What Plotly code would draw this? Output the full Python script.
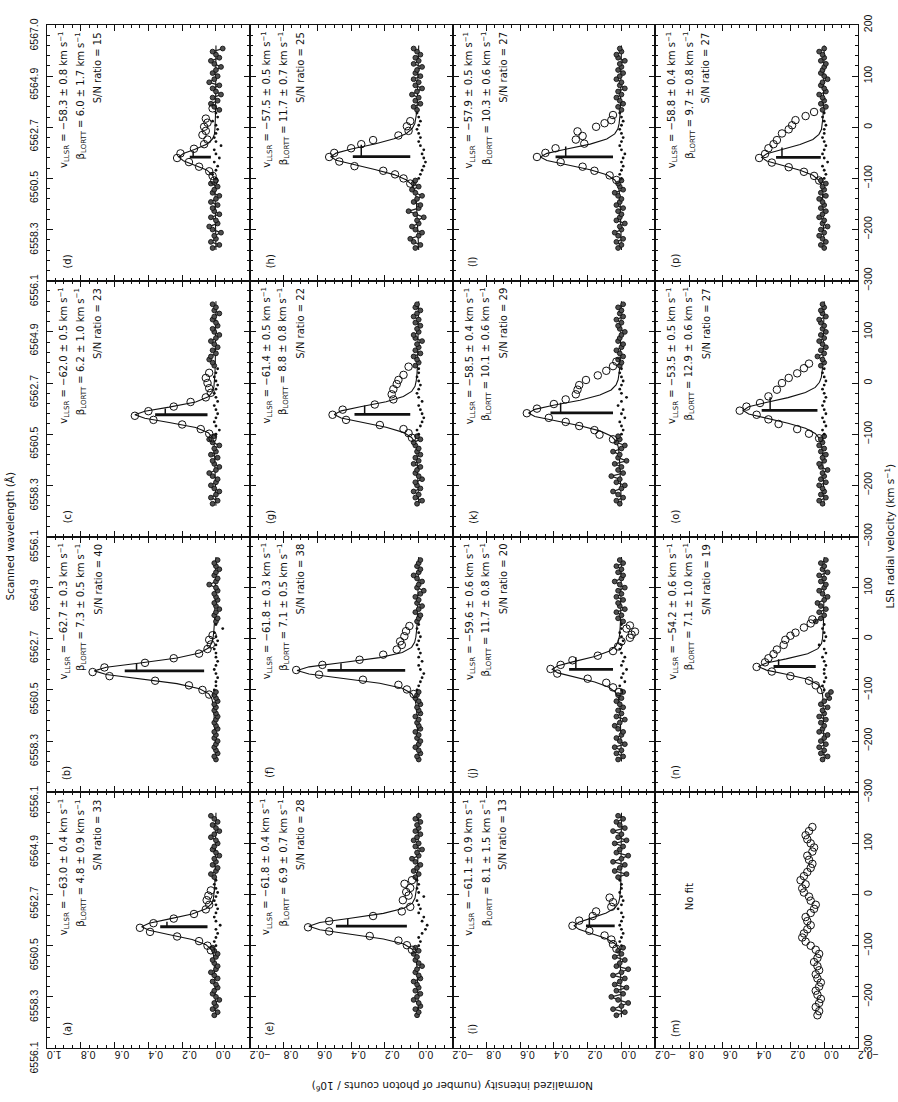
import plotly.graph_objects as go

# ---------------------------------------------------------------------------
# Fit results printed in each panel
# ---------------------------------------------------------------------------
LETTERS = list("abcdefghijklmnop")

V_LSR = dict(a=-63.0, b=-62.7, c=-62.0, d=-58.3, e=-61.8, f=-61.8, g=-61.4, h=-57.5,
             i=-61.1, j=-59.6, k=-58.5, l=-57.9, n=-54.2, o=-53.5, p=-58.8)
V_ERR = dict(a=0.4, b=0.3, c=0.5, d=0.8, e=0.4, f=0.3, g=0.5, h=0.5,
             i=0.9, j=0.6, k=0.4, l=0.5, n=0.6, o=0.5, p=0.4)
BETA = dict(a=4.8, b=7.3, c=6.2, d=6.0, e=6.9, f=7.1, g=8.8, h=11.7,
            i=8.1, j=11.7, k=10.1, l=10.3, n=7.1, o=12.9, p=9.7)
BETA_ERR = dict(a=0.9, b=0.5, c=1.0, d=1.7, e=0.7, f=0.5, g=0.8, h=0.7,
                i=1.5, j=0.8, k=0.6, l=0.6, n=1.0, o=0.6, p=0.8)
SNR = dict(a=33, b=40, c=23, d=15, e=28, f=38, g=22, h=25,
           i=13, j=20, k=29, l=27, n=19, o=27, p=27)

# ---------------------------------------------------------------------------
# Continuum windows (dense samples), km/s and normalized intensity
# ---------------------------------------------------------------------------
CONT_V_LO = [-236, -230, -224, -218, -212, -206, -200, -194, -188, -182, -176, -170,
             -164, -158, -152, -146, -140, -134, -128, -122, -116, -110, -104]
CONT_V_HI = [34, 40, 46, 52, 58, 64, 70, 76, 82, 88, 94, 100, 106, 112, 118, 124,
             130, 136, 142, 148, 154]

CONT_LO = dict(
    a=[0.01, -0.01, 0.02, 0.0, 0.01, -0.02, 0.0, 0.02, 0.01, -0.01, 0.0, 0.02, -0.01, 0.01, 0.03, 0.0, -0.01, 0.01, 0.02, 0.0, -0.01, 0.01, 0.02],
    b=[0.0, 0.01, -0.01, 0.0, 0.01, 0.0, -0.01, 0.01, 0.0, 0.01, -0.01, 0.0, 0.01, 0.0, -0.01, 0.0, 0.01, 0.0, 0.01, -0.01, 0.0, 0.01, 0.0],
    c=[0.02, -0.01, 0.03, 0.0, -0.02, 0.01, 0.03, 0.0, -0.01, 0.02, 0.04, 0.0, -0.02, 0.01, 0.02, -0.01, 0.03, 0.0, 0.01, -0.02, 0.02, 0.04, 0.01],
    d=[0.02, -0.02, 0.03, 0.0, 0.01, -0.03, 0.02, 0.04, -0.01, 0.0, 0.03, -0.02, 0.01, 0.02, -0.01, 0.03, 0.0, -0.02, 0.02, 0.01, -0.01, 0.03, 0.0],
    e=[0.01, 0.0, 0.02, -0.01, 0.0, 0.03, 0.01, -0.01, 0.02, 0.0, 0.01, 0.03, -0.01, 0.0, 0.02, 0.01, -0.02, 0.0, 0.02, 0.01, 0.03, 0.0, 0.02],
    f=[0.0, 0.01, -0.01, 0.0, 0.02, 0.0, -0.01, 0.01, 0.0, 0.02, -0.01, 0.0, 0.01, 0.0, 0.02, -0.01, 0.0, 0.01, -0.01, 0.0, 0.02, 0.01, 0.0],
    g=[0.01, -0.02, 0.02, 0.0, 0.03, -0.01, 0.01, 0.02, -0.02, 0.0, 0.02, 0.01, -0.01, 0.03, 0.0, 0.02, -0.01, 0.01, 0.0, 0.02, 0.03, -0.01, 0.01],
    h=[0.02, -0.01, 0.03, 0.05, 0.0, -0.02, 0.02, 0.04, 0.0, 0.01, -0.03, 0.02, 0.06, 0.0, -0.01, 0.03, 0.01, -0.02, 0.02, 0.04, 0.0, 0.03, 0.02],
    i=[0.03, -0.02, 0.05, 0.0, -0.04, 0.02, 0.06, -0.01, 0.03, -0.03, 0.04, 0.01, -0.02, 0.05, 0.0, -0.04, 0.03, 0.01, -0.02, 0.04, 0.0, 0.02, -0.01],
    j=[0.02, -0.01, 0.03, 0.0, 0.04, -0.02, 0.01, 0.03, 0.0, -0.01, 0.02, 0.04, 0.01, -0.02, 0.03, 0.0, 0.02, -0.01, 0.01, 0.03, 0.0, 0.02, -0.01],
    k=[0.01, 0.03, -0.01, 0.02, 0.05, 0.0, -0.02, 0.03, 0.01, 0.06, -0.01, 0.02, 0.0, 0.04, -0.03, 0.02, 0.01, 0.05, 0.0, -0.02, 0.03, 0.01, 0.02],
    l=[0.02, 0.0, 0.03, -0.01, 0.02, 0.04, 0.0, 0.01, -0.02, 0.03, 0.01, 0.0, 0.02, -0.01, 0.03, 0.01, 0.0, 0.02, 0.04, -0.01, 0.01, 0.02, 0.0],
    n=[0.01, -0.02, 0.02, 0.0, 0.03, -0.01, 0.02, 0.0, -0.02, 0.03, 0.01, 0.0, 0.02, -0.01, 0.03, 0.0, 0.01, -0.02, 0.02, 0.0, -0.03, -0.02, -0.04],
    o=[0.01, 0.03, -0.01, 0.02, 0.0, 0.01, 0.03, -0.01, 0.02, 0.0, 0.01, -0.02, 0.02, 0.03, 0.0, 0.01, -0.01, 0.02, 0.0, 0.03, 0.01, 0.02, 0.0],
    p=[0.0, 0.02, -0.01, 0.01, 0.03, 0.0, 0.02, -0.02, 0.01, 0.0, 0.03, 0.01, -0.01, 0.02, 0.0, 0.01, 0.03, -0.01, 0.02, 0.0, 0.01, -0.01, 0.02],
)
CONT_HI = dict(
    a=[0.01, 0.03, 0.0, -0.01, 0.02, 0.0, 0.01, -0.02, 0.0, 0.02, 0.01, -0.01, 0.0, 0.03, 0.01, -0.02, 0.0, 0.02, -0.01, 0.01, 0.03],
    b=[0.0, -0.01, 0.01, 0.0, -0.02, 0.0, 0.01, -0.01, 0.0, 0.01, -0.01, 0.0, 0.04, 0.0, -0.01, 0.01, 0.0, -0.02, 0.0, 0.01, -0.01],
    c=[0.01, 0.02, 0.04, 0.03, 0.0, 0.02, -0.01, 0.01, 0.03, 0.0, -0.02, 0.01, 0.02, -0.01, 0.0, 0.02, 0.01, -0.02, 0.01, 0.0, 0.02],
    d=[-0.02, 0.01, 0.03, -0.01, 0.02, -0.03, 0.0, 0.02, -0.02, 0.04, 0.01, -0.01, 0.02, 0.0, -0.03, 0.01, 0.03, -0.02, 0.0, 0.02, -0.04],
    e=[0.02, 0.0, 0.03, 0.01, -0.01, 0.02, 0.04, 0.0, 0.01, -0.02, 0.02, 0.0, 0.03, 0.01, -0.01, 0.02, 0.0, 0.01, -0.01, 0.02, 0.0],
    f=[0.01, 0.0, -0.01, 0.02, 0.0, -0.02, 0.01, 0.0, 0.02, -0.01, -0.03, 0.01, 0.0, -0.02, 0.01, 0.03, 0.0, -0.01, 0.01, 0.0, -0.01],
    g=[0.02, 0.0, 0.01, 0.03, -0.01, 0.02, 0.0, 0.01, -0.02, 0.02, 0.03, 0.0, 0.01, -0.01, 0.02, 0.0, 0.03, 0.01, -0.01, 0.02, 0.01],
    h=[0.01, 0.03, -0.01, 0.02, 0.0, 0.04, 0.01, -0.02, 0.02, 0.0, 0.03, -0.01, 0.02, 0.01, -0.02, 0.03, 0.0, 0.02, -0.01, 0.01, 0.03],
    i=[0.02, -0.03, 0.04, 0.01, -0.02, 0.05, 0.0, -0.04, 0.03, 0.01, -0.01, 0.04, -0.03, 0.02, 0.0, 0.05, -0.02, 0.01, 0.03, -0.01, 0.02],
    j=[-0.01, 0.02, 0.0, 0.03, -0.02, 0.01, 0.02, -0.01, 0.03, 0.0, 0.02, -0.02, 0.01, 0.04, 0.0, -0.01, 0.02, 0.0, 0.03, -0.01, 0.01],
    k=[0.01, 0.0, 0.02, -0.01, 0.01, 0.03, 0.0, -0.01, 0.02, 0.01, 0.0, -0.02, 0.01, 0.02, 0.0, 0.03, -0.01, 0.01, 0.0, 0.02, -0.01],
    l=[0.0, 0.02, -0.01, 0.01, 0.03, 0.0, 0.02, -0.02, 0.01, 0.0, 0.03, 0.01, -0.01, 0.02, 0.0, 0.01, -0.02, 0.02, 0.03, 0.0, 0.01],
    n=[0.05, 0.02, 0.0, 0.03, -0.01, 0.02, 0.04, 0.0, -0.02, 0.01, 0.03, 0.0, -0.01, 0.02, 0.0, 0.03, -0.02, 0.01, 0.0, 0.02, -0.01],
    o=[0.02, 0.0, 0.01, 0.04, 0.0, 0.02, -0.01, 0.01, 0.03, 0.0, 0.02, -0.01, 0.01, 0.0, 0.02, 0.03, -0.01, 0.01, 0.02, 0.0, 0.01],
    p=[0.01, -0.01, 0.02, 0.0, 0.01, 0.03, -0.01, 0.0, 0.02, 0.01, -0.02, 0.0, 0.02, 0.01, 0.0, -0.01, 0.02, 0.0, 0.01, 0.03, 0.0],
)

# ---------------------------------------------------------------------------
# Small baseline dots across the line window
# ---------------------------------------------------------------------------
DOT_V = [-100, -92, -84, -76, -68, -60, -52, -44, -36, -28, -20, -12, -4, 4, 12, 20, 28]
DOT_I = dict(
    a=[0.0, 0.01, 0.0, -0.01, 0.0, -0.025, 0.0, 0.01, 0.0, -0.01, 0.0, 0.01, 0.0, -0.01, 0.0, 0.01, 0.0],
    b=[0.01, 0.0, 0.0, -0.01, 0.0, 0.01, 0.0, -0.01, 0.0, 0.0, 0.01, 0.0, -0.01, 0.0, 0.01, -0.04, 0.0],
    c=[0.0, -0.02, 0.0, 0.01, 0.0, -0.01, 0.0, 0.01, -0.01, 0.0, 0.01, 0.0, -0.01, 0.0, 0.01, 0.0, -0.01],
    d=[0.0, 0.02, 0.0, -0.01, 0.01, -0.02, 0.0, 0.01, -0.03, 0.0, 0.01, 0.0, -0.01, 0.0, 0.02, -0.01, 0.0],
    e=[0.0, -0.01, 0.0, -0.02, -0.04, -0.05, -0.02, -0.03, 0.0, -0.01, 0.0, 0.01, -0.03, 0.0, 0.01, 0.0, 0.01],
    f=[0.01, 0.0, -0.01, -0.02, -0.03, -0.01, 0.0, -0.02, 0.0, -0.01, 0.0, 0.01, 0.0, -0.01, 0.0, 0.01, 0.0],
    g=[0.0, 0.01, -0.01, -0.02, -0.03, -0.02, -0.01, 0.0, -0.02, 0.0, 0.01, 0.0, -0.01, 0.0, 0.01, 0.0, 0.0],
    h=[0.0, -0.01, -0.02, -0.03, -0.04, -0.03, -0.02, -0.03, -0.01, 0.0, -0.01, 0.0, 0.01, 0.0, -0.01, 0.0, 0.01],
    i=[0.0, 0.01, 0.0, -0.01, 0.0, 0.01, 0.0, -0.01, 0.0, 0.02, 0.0, -0.01, 0.0, 0.01, 0.0, 0.0, 0.01],
    j=[0.0, 0.01, -0.02, 0.0, -0.01, -0.03, 0.0, -0.01, -0.02, 0.0, 0.01, 0.0, -0.01, 0.0, 0.01, 0.0, 0.0],
    k=[0.0, -0.01, 0.0, 0.01, -0.02, 0.0, -0.01, 0.02, 0.0, -0.03, 0.0, 0.01, 0.0, -0.01, 0.0, 0.01, 0.0],
    l=[0.0, 0.01, 0.0, -0.01, 0.0, -0.01, -0.02, 0.0, 0.01, 0.0, -0.01, 0.0, 0.01, 0.0, -0.01, 0.0, 0.01],
    n=[0.0, 0.01, 0.0, -0.01, 0.0, 0.0, -0.01, 0.0, 0.01, -0.01, 0.0, 0.03, 0.0, -0.01, 0.0, 0.01, 0.0],
    o=[0.0, 0.01, -0.01, 0.0, 0.01, -0.01, 0.0, 0.01, 0.0, -0.01, 0.0, 0.01, 0.0, -0.01, 0.0, 0.01, 0.0],
    p=[0.0, -0.01, 0.0, 0.01, -0.02, 0.0, 0.01, 0.0, -0.01, 0.0, 0.01, 0.0, 0.0, -0.01, 0.0, 0.01, 0.0],
)

# ---------------------------------------------------------------------------
# Line-window samples (open circles): velocity and intensity
# ---------------------------------------------------------------------------
RING_V = dict(
    a=[-109, -100, -91, -82, -73, -65, -56, -47, -38, -29, -20, -11, -2, 8],
    b=[-109, -100, -91, -82, -73, -65, -56, -47, -38, -29, -20, -11, -2, 7],
    c=[-108, -99, -90, -81, -72, -64, -55, -46, -37, -28, -19, -10, 0, 10, 20],
    d=[-104, -95, -86, -77, -68, -60, -51, -42, -33, -24, -15, -7, 1, 9, 17, 37],
    e=[-108, -99, -90, -81, -72, -64, -52, -42, -33, -24, -11, -2, 5, 13, 21, 28],
    f=[-108, -99, -90, -80, -70, -61, -51, -41, -31, -21, -12, -5, 5, 15, 25],
    g=[-107, -98, -90, -82, -72, -62, -52, -42, -32, -22, -12, -2, 6, 16, 32],
    h=[-110, -100, -92, -85, -76, -67, -58, -50, -41, -33, -25, -16, -7, 2, 12],
    i=[-106, -97, -88, -80, -71, -61, -51, -42, -33, -24, -15, -6],
    j=[-104, -95, -86, -78, -68, -59, -51, -42, -33, -24, -15, -5, 2, 8, 14, 20, 26],
    k=[-110, -101, -92, -84, -76, -68, -59, -50, -41, -32, -22, -13, -4, 6, 15, 24, 33, 42],
    l=[-103, -94, -85, -77, -68, -58, -50, -41, -32, -24, -17, -8, 1, 8, 14, 24],
    m=[-236, -228, -220, -212, -204, -196, -188, -180, -172, -164, -156, -148, -140, -132,
       -124, -116, -108, -100, -92, -84, -76, -68, -60, -52, -44, -36, -28, -20, -12, -4,
       4, 12, 20, 28, 36, 44, 52, 60, 68, 76, 84, 92, 100, 108, 116, 124, 132],
    n=[-100, -91, -82, -73, -64, -55, -46, -38, -30, -21, -12, -2, 6, 12, 22, 30, 38],
    o=[-108, -99, -90, -80, -71, -62, -54, -46, -39, -26, -13, 0, 10, 19, 29, 38],
    p=[-104, -95, -87, -78, -69, -60, -52, -41, -33, -25, -12, -4, 4, 14, 22, 30],
)
RING_I = dict(
    a=[0.03, 0.05, 0.10, 0.23, 0.39, 0.45, 0.37, 0.25, 0.13, 0.06, 0.04, 0.055, 0.045, 0.03],
    b=[0.04, 0.08, 0.16, 0.36, 0.63, 0.73, 0.66, 0.42, 0.25, 0.10, 0.05, 0.03, 0.04, 0.02],
    c=[0.02, 0.04, 0.09, 0.20, 0.37, 0.48, 0.40, 0.25, 0.15, 0.06, 0.03, 0.04, 0.05, 0.06, 0.04],
    d=[0.01, 0.02, 0.04, 0.10, 0.16, 0.23, 0.21, 0.13, 0.07, 0.05, 0.08, 0.06, 0.07, 0.05, 0.06, 0.02],
    e=[0.04, 0.07, 0.12, 0.29, 0.53, 0.655, 0.53, 0.27, 0.10, 0.05, 0.094, 0.06, 0.074, 0.05, 0.084, 0.04],
    f=[0.03, 0.07, 0.12, 0.33, 0.59, 0.725, 0.57, 0.35, 0.21, 0.13, 0.10, 0.11, 0.085, 0.075, 0.055],
    g=[0.04, 0.06, 0.09, 0.23, 0.43, 0.51, 0.45, 0.26, 0.15, 0.16, 0.15, 0.13, 0.12, 0.09, 0.06],
    h=[0.05, 0.09, 0.14, 0.21, 0.38, 0.47, 0.53, 0.50, 0.40, 0.34, 0.27, 0.12, 0.06, 0.07, 0.05],
    i=[0.03, 0.05, 0.06, 0.10, 0.19, 0.29, 0.25, 0.17, 0.15, 0.06, 0.05, 0.07],
    j=[0.015, 0.05, 0.09, 0.20, 0.38, 0.42, 0.36, 0.29, 0.14, 0.05, 0.02, 0.0, -0.05, -0.06, -0.08, -0.03, -0.05],
    k=[0.05, 0.13, 0.16, 0.25, 0.33, 0.43, 0.56, 0.50, 0.40, 0.33, 0.27, 0.26, 0.25, 0.21, 0.14, 0.09, 0.05, 0.03],
    l=[0.03, 0.07, 0.16, 0.23, 0.36, 0.50, 0.45, 0.39, 0.22, 0.27, 0.23, 0.26, 0.15, 0.10, 0.06, 0.05],
    m=[0.04, 0.03, 0.05, 0.03, 0.02, 0.04, 0.05, 0.03, 0.02, 0.04, 0.05, 0.03, 0.04, 0.06,
       0.04, 0.03, 0.05, 0.08, 0.11, 0.13, 0.12, 0.10, 0.08, 0.10, 0.11, 0.08, 0.06, 0.05,
       0.08, 0.09, 0.12, 0.13, 0.11, 0.14, 0.12, 0.10, 0.08, 0.07, 0.09, 0.10, 0.07, 0.06,
       0.08, 0.10, 0.11, 0.09, 0.07],
    n=[0.02, 0.05, 0.09, 0.20, 0.31, 0.40, 0.35, 0.33, 0.30, 0.28, 0.24, 0.23, 0.20, 0.17, 0.12, 0.08, 0.07],
    o=[0.03, 0.09, 0.16, 0.27, 0.33, 0.40, 0.50, 0.46, 0.38, 0.33, 0.28, 0.25, 0.21, 0.16, 0.12, 0.09],
    p=[0.03, 0.06, 0.12, 0.21, 0.31, 0.385, 0.35, 0.33, 0.30, 0.28, 0.25, 0.21, 0.19, 0.17, 0.11, 0.06],
)

# ---------------------------------------------------------------------------
# Fitted profile, sampled at offsets (km/s) from the fitted line centre
# ---------------------------------------------------------------------------
FIT_DV = [-100, -80, -65, -55, -45, -35, -25, -15, -7, 0, 7, 15, 25, 35, 45, 55, 65, 80, 100]
FIT_I = dict(
    a=[.005, .007, .011, .015, .026, .059, .141, .281, .396, .440, .396, .281, .141, .059, .026, .015, .011, .007, .005],
    b=[.008, .012, .017, .024, .042, .097, .231, .460, .649, .720, .649, .460, .231, .097, .042, .024, .017, .012, .008],
    c=[.004, .006, .009, .012, .020, .045, .120, .277, .421, .480, .421, .277, .120, .045, .020, .012, .009, .006, .004],
    d=[.002, .003, .004, .006, .009, .021, .055, .127, .193, .220, .193, .127, .055, .021, .009, .006, .004, .003, .002],
    e=[.007, .010, .016, .022, .038, .088, .209, .415, .586, .650, .586, .415, .209, .088, .038, .022, .016, .010, .007],
    f=[.008, .012, .017, .024, .042, .097, .231, .460, .649, .720, .649, .460, .231, .097, .042, .024, .017, .012, .008],
    g=[.007, .010, .015, .022, .042, .091, .193, .345, .459, .500, .459, .345, .193, .091, .042, .022, .015, .010, .007],
    h=[.009, .015, .023, .039, .075, .146, .260, .398, .489, .520, .489, .398, .260, .146, .075, .039, .023, .015, .009],
    i=[.003, .004, .007, .010, .017, .038, .090, .179, .252, .280, .252, .179, .090, .038, .017, .010, .007, .004, .003],
    j=[.005, .008, .012, .018, .034, .074, .158, .283, .376, .410, .376, .283, .158, .074, .034, .018, .012, .008, .005],
    k=[.008, .013, .020, .032, .061, .128, .245, .403, .513, .550, .513, .403, .245, .128, .061, .032, .020, .013, .008],
    l=[.006, .009, .014, .021, .040, .087, .185, .331, .441, .480, .441, .331, .185, .087, .040, .021, .014, .009, .006],
    n=[.003, .005, .007, .010, .016, .037, .098, .225, .342, .390, .342, .225, .098, .037, .016, .010, .007, .005, .003],
    o=[.007, .011, .017, .028, .053, .111, .214, .351, .447, .480, .447, .351, .214, .111, .053, .028, .017, .011, .007],
    p=[.005, .007, .011, .016, .031, .067, .143, .255, .340, .370, .340, .255, .143, .067, .031, .016, .011, .007, .005],
)

# Centre marker: bar from BAR_LO to BAR_HI at the fitted velocity, tick at CAP_I
BAR_LO = dict(a=.05, b=.07, c=.05, d=.03, e=.07, f=.08, g=.05, h=.05, i=.04, j=.05, k=.05, l=.05, n=.05, o=.04, p=.02)
BAR_HI = dict(a=.33, b=.54, c=.36, d=.155, e=.49, f=.54, g=.38, h=.39, i=.21, j=.31, k=.42, l=.39, n=.30, o=.37, p=.285)
CAP_I = dict(a=.29, b=.47, c=.30, d=.135, e=.42, f=.46, g=.32, h=.34, i=.19, j=.27, k=.36, l=.33, n=.27, o=.32, p=.25)

# Axis tick labels
I_TICKS = [1.0, 0.8, 0.6, 0.4, 0.2, 0.0, -0.2]
V_TICKS = [-300, -200, -100, 0, 100, 200]
WL_TICKS = [6556.1, 6558.3, 6560.5, 6562.7, 6564.9, 6567.0]
WL_RANGE = [6556.1, 6567.0]
V_RANGE = [-300, 200]
I_RANGE = [1.0, -0.2]

# ---------------------------------------------------------------------------
INK = "#111111"
FONT = "Liberation Sans, Arial, sans-serif"
TEXT_FONT = "DejaVu Sans, Liberation Sans, sans-serif"
MINUS = "\u2212"


def num(x, fmt="{:.1f}"):
    s = fmt.format(x)
    return s.replace("-", MINUS)


def ax_names(k):
    return ("xaxis" if k == 1 else f"xaxis{k}",
            "yaxis" if k == 1 else f"yaxis{k}",
            "x" if k == 1 else f"x{k}",
            "y" if k == 1 else f"y{k}")


fig = go.Figure()
layout = dict(
    width=898, height=1102,
    margin=dict(l=47, r=40, t=25, b=54, pad=0),
    paper_bgcolor="white", plot_bgcolor="white",
    showlegend=False,
    font=dict(family=FONT, size=10, color=INK),
)
annotations = []

minor_i = [round(-0.2 + 0.05 * n, 2) for n in range(25)]
minor_v = list(range(-300, 201, 20))

for idx, letter in enumerate(LETTERS):
    col, row = idx // 4, 3 - idx % 4
    k = row * 4 + col + 1
    xname, yname, xr, yr = ax_names(k)

    x_text = [num(t) if (col == 0 or t != 1.0) else "" for t in I_TICKS]
    layout[xname] = dict(
        domain=[col / 4, (col + 1) / 4], anchor=yr, range=I_RANGE,
        showgrid=False, zeroline=False, showline=True, linecolor=INK, linewidth=1.0,
        mirror="ticks", ticks="inside", ticklen=6, tickwidth=1.0, tickcolor=INK,
        tickmode="array", tickvals=I_TICKS, ticktext=x_text,
        showticklabels=(row == 3), tickangle=180,
        tickfont=dict(family=FONT, size=10.5, color=INK),
        minor=dict(tickmode="array", tickvals=minor_i, ticks="inside", ticklen=3,
                   tickwidth=1, tickcolor=INK),
    )
    y_text = [num(t, "{:d}") if (row == 0 or t != 200) else "" for t in V_TICKS]
    layout[yname] = dict(
        domain=[1 - (row + 1) / 4, 1 - row / 4], anchor=xr, range=V_RANGE,
        showgrid=False, zeroline=False, showline=True, linecolor=INK, linewidth=1.0,
        mirror="ticks", ticks="inside", ticklen=6, tickwidth=1.0, tickcolor=INK,
        tickmode="array", tickvals=V_TICKS, ticktext=y_text,
        showticklabels=(col == 3), side="right", tickangle=-90,
        tickfont=dict(family=FONT, size=10.5, color=INK),
        minor=dict(tickmode="array", tickvals=minor_v, ticks="inside", ticklen=3,
                   tickwidth=1, tickcolor=INK),
    )

    # scanned-wavelength scale along the outer left edge
    if col == 0:
        wk = 17 + row
        wl_vals = WL_TICKS if row == 0 else WL_TICKS[:-1]
        layout[f"yaxis{wk}"] = dict(
            overlaying=yr, anchor=xr, side="left", range=WL_RANGE,
            showgrid=False, zeroline=False, showline=False, ticks="",
            tickmode="array", tickvals=wl_vals, ticktext=[f"{w:.1f}" for w in wl_vals],
            tickangle=-90, ticklabelshift=11, ticklabelstandoff=6,
            tickfont=dict(family=FONT, size=10.5, color=INK),
        )
        fig.add_trace(go.Scatter(x=[0.4, 0.4], y=WL_RANGE, mode="markers",
                                 marker=dict(opacity=0), hoverinfo="skip",
                                 xaxis=xr, yaxis=f"y{wk}"))

    if letter in V_LSR:
        v0 = V_LSR[letter]
        # fitted profile with its flat baseline
        fit_v = [-240] + [v0 + dv for dv in FIT_DV] + [160]
        fit_i = [0.0] + FIT_I[letter] + [0.0]
        fig.add_trace(go.Scatter(x=fit_i, y=fit_v, mode="lines",
                                 line=dict(color=INK, width=1.1),
                                 xaxis=xr, yaxis=yr, hoverinfo="skip"))
        # continuum samples: two dense windows drawn as a jagged band
        for ci, cv in ((CONT_LO[letter], CONT_V_LO), (CONT_HI[letter], CONT_V_HI)):
            fig.add_trace(go.Scatter(
                x=ci, y=cv, mode="lines+markers",
                line=dict(color="#222", width=1.3),
                marker=dict(symbol="circle", size=4.8, color="#505050",
                            line=dict(color="#111", width=0.9)),
                xaxis=xr, yaxis=yr, hoverinfo="skip"))
        # baseline dots
        fig.add_trace(go.Scatter(x=DOT_I[letter], y=DOT_V, mode="markers",
                                 marker=dict(symbol="circle", size=2.8, color=INK),
                                 xaxis=xr, yaxis=yr, hoverinfo="skip"))

    # line-window samples
    fig.add_trace(go.Scatter(x=RING_I[letter], y=RING_V[letter], mode="markers",
                             marker=dict(symbol="circle-open", size=7.5, color=INK,
                                         line=dict(width=1)),
                             xaxis=xr, yaxis=yr, hoverinfo="skip"))

    if letter in V_LSR:
        v0 = V_LSR[letter]
        fig.add_trace(go.Scatter(x=[BAR_LO[letter], BAR_HI[letter]], y=[v0, v0],
                                 mode="lines", line=dict(color=INK, width=2.8),
                                 xaxis=xr, yaxis=yr, hoverinfo="skip"))
        fig.add_trace(go.Scatter(x=[CAP_I[letter], CAP_I[letter]],
                                 y=[v0, v0 + 2 * BETA[letter]],
                                 mode="lines", line=dict(color=INK, width=1.5),
                                 xaxis=xr, yaxis=yr, hoverinfo="skip"))
        lines = [
            f"v<sub>LLSR</sub> = {num(v0)} \u00b1 {V_ERR[letter]:.1f} km s<sup>{MINUS}1</sup>",
            f"\u03b2<sub>LORTT</sub> = {BETA[letter]:.1f} \u00b1 {BETA_ERR[letter]:.1f} km s<sup>{MINUS}1</sup>",
            f"S/N ratio = {SNR[letter]}",
        ]
        for txt, xi in zip(lines, [0.90, 0.80, 0.70]):
            annotations.append(dict(text=txt, x=xi, y=190, xref=xr, yref=yr,
                                    textangle=-90, xanchor="center", yanchor="top",
                                    showarrow=False,
                                    font=dict(family=TEXT_FONT, size=10, color=INK)))
    else:
        annotations.append(dict(text="No fit", x=0.80, y=-5, xref=xr, yref=yr,
                                textangle=-90, xanchor="center", yanchor="middle",
                                showarrow=False,
                                font=dict(family=TEXT_FONT, size=10, color=INK)))

    annotations.append(dict(text=f"({letter})", x=0.88, y=-262, xref=xr, yref=yr,
                            textangle=-90, xanchor="center", yanchor="middle",
                            showarrow=False,
                            font=dict(family=TEXT_FONT, size=10, color=INK)))

# axis titles
annotations += [
    dict(text="Scanned wavelength (\u00c5)", x=(9 - 47) / 811, y=0.5, xref="paper", yref="paper",
         textangle=-90, showarrow=False, xanchor="center", yanchor="middle",
         font=dict(family=TEXT_FONT, size=10.5, color=INK)),
    dict(text=f"LSR radial velocity (km s<sup>{MINUS}1</sup>)", x=(889 - 47) / 811, y=0.5,
         xref="paper", yref="paper", textangle=-90, showarrow=False,
         xanchor="center", yanchor="middle",
         font=dict(family=TEXT_FONT, size=10.5, color=INK)),
    dict(text="Normalized intensity (number of photon counts / 10<sup>6</sup>)",
         x=0.5, y=(1048 - 1087) / 1023, xref="paper", yref="paper", textangle=180,
         showarrow=False, xanchor="center", yanchor="middle",
         font=dict(family=TEXT_FONT, size=10.5, color=INK)),
]

layout["annotations"] = annotations
fig.update_layout(**layout)
fig.write_html("out.html")
